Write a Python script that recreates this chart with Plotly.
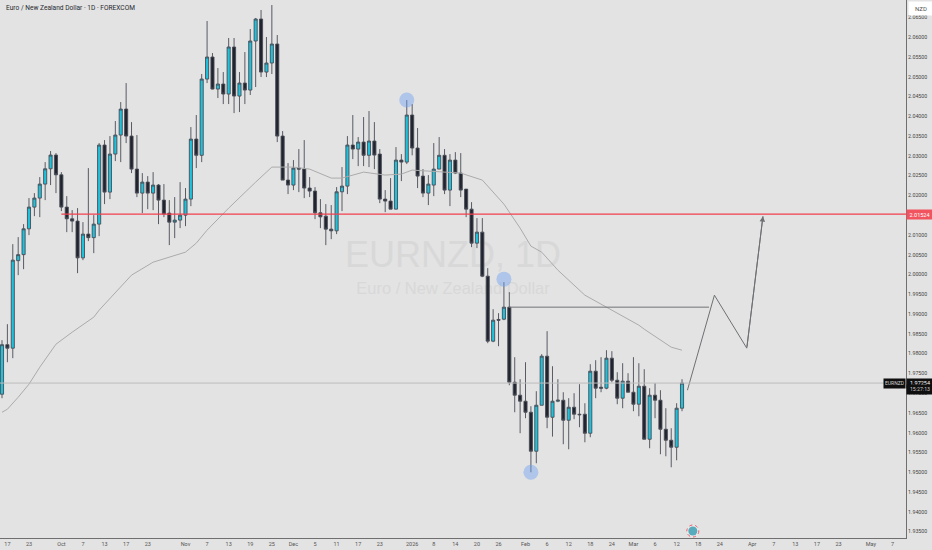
import pandas as pd
import plotly.graph_objects as go

# daily bars, 2025-09-16 to 2026-03-13
opens = [1.96972, 1.98224, 1.98136, 2.00349, 2.00501, 2.01154, 2.01703, 2.01931, 2.02285, 2.02672,
         2.03019, 2.0252, 2.01703, 2.01407, 2.01349, 2.0042, 2.0102, 2.00931, 2.01273, 2.03272,
         2.02082, 2.03044, 2.03525, 2.04182, 2.03499, 2.02664, 2.02057, 2.02335, 2.02057, 2.0226,
         2.0188, 2.01551, 2.01323, 2.01374, 2.0150, 2.01905, 2.03423, 2.03013, 2.04941, 2.05498,
         2.04688, 2.04815, 2.04562, 2.05751, 2.04511, 2.0484, 2.04663, 2.05903, 2.06459, 2.05118,
         2.05346, 2.05827, 2.03499, 2.02386, 2.0226, 2.0269, 2.02664, 2.02184, 2.02108, 2.01559,
         2.01475, 2.01146, 2.01103, 2.0209, 2.02234, 2.03272, 2.0317, 2.03347, 2.03013, 2.03373,
         2.03044, 2.01905, 2.01855, 2.01652, 2.02892, 2.02841, 2.04031, 2.03196, 2.02487, 2.02057,
         2.0226, 2.02664, 2.03013, 2.02133, 2.02892, 2.02563, 2.02158, 2.01652, 2.00792, 2.0107,
         1.99957, 1.98313, 1.98862, 1.98869, 1.99173, 1.97275, 1.96947, 1.96795, 1.96516, 1.9553,
         1.96693, 1.97933, 1.9639, 1.96795, 1.9682, 1.96314, 1.96643, 1.96466, 1.96466, 1.95985,
         1.97554, 1.97149, 1.97124, 1.97883, 1.97326, 1.96871, 1.97301, 1.97022, 1.96719, 1.97174,
         1.95833, 1.96947, 1.9682, 1.96086, 1.95808, 1.95631, 1.96618]
highs = [1.98338, 1.98743, 2.00767, 2.00944, 2.01273, 2.01931, 2.02057, 2.02462, 2.02841, 2.0312,
         2.03069, 2.02588, 2.01981, 2.01627, 2.01678, 2.01323, 2.0269, 2.0150, 2.03322, 2.03398,
         2.03499, 2.03879, 2.04359, 2.0484, 2.03853, 2.03525, 2.02563, 2.02487, 2.02588, 2.02285,
         2.02285, 2.0188, 2.01956, 2.02335, 2.02184, 2.03727, 2.04031, 2.05068, 2.06409, 2.05599,
         2.0522, 2.05118, 2.05979, 2.05979, 2.05118, 2.05624, 2.06206, 2.06485, 2.06687, 2.06004,
         2.06813, 2.06055, 2.03626, 2.02816, 2.02892, 2.0317, 2.03398, 2.02462, 2.02209, 2.01905,
         2.01779, 2.01754, 2.02209, 2.02715, 2.03499, 2.04031, 2.03474, 2.0398, 2.04132, 2.03853,
         2.0317, 2.02133, 2.02437, 2.03221, 2.03044, 2.0441, 2.04309, 2.03702, 2.02664, 2.02513,
         2.03322, 2.03474, 2.0317, 2.03044, 2.03094, 2.03069, 2.02158, 2.01829, 2.01425, 2.01425,
         2.0016, 1.99122, 1.99021, 1.99805, 1.99552, 1.97908, 1.97351, 1.97781, 1.96668, 1.97048,
         1.97984, 1.98566, 1.9768, 1.97351, 1.97022, 1.96871, 1.96997, 1.97225, 1.96744, 1.97731,
         1.97832, 1.97908, 1.98085, 1.9806, 1.97528, 1.97756, 1.97503, 1.97908, 1.97756, 1.97604,
         1.97124, 1.9725, 1.97073, 1.96618, 1.96112, 1.96744, 1.97351]
lows = [1.96871, 1.97781, 1.97883, 1.99983, 2.00134, 2.00995, 2.01475, 2.0145, 2.0188, 2.0226,
        2.02057, 2.01602, 2.0107, 2.0107, 2.00033, 2.00362, 2.00843, 2.00539, 2.00969, 2.01779,
        2.01905, 2.02867, 2.02841, 2.03322, 2.02563, 2.01956, 2.01551, 2.01652, 2.01627, 2.01273,
        2.0145, 2.00742, 2.00919, 2.01172, 2.01222, 2.01728, 2.0269, 2.02841, 2.0484, 2.0468,
        2.04461, 2.04309, 2.04309, 2.04081, 2.04106, 2.04309, 2.04537, 2.04739, 2.04992, 2.04992,
        2.05068, 2.03347, 2.02386, 2.02032, 2.02133, 2.02082, 2.01931, 2.01956, 2.01399, 2.01172,
        2.00742, 2.00893, 2.0102, 2.01602, 2.02032, 2.02917, 2.0274, 2.0274, 2.02715, 2.02664,
        2.01804, 2.01576, 2.01652, 2.01652, 2.02361, 2.02791, 2.03013, 2.02184, 2.01956, 2.01754,
        2.01981, 2.02664, 2.02032, 2.01728, 2.02538, 2.01956, 2.0145, 2.00691, 2.00666, 1.99932,
        1.98262, 1.98287, 1.98186, 1.98844, 1.97199, 1.96516, 1.95986, 1.96365, 1.94998, 1.95226,
        1.96693, 1.96112, 1.959, 1.9677, 1.95707, 1.9558, 1.9634, 1.96137, 1.95757, 1.95884,
        1.96871, 1.97022, 1.97098, 1.97275, 1.96719, 1.96618, 1.97022, 1.96542, 1.96415, 1.95833,
        1.95606, 1.96365, 1.95454, 1.95403, 1.95125, 1.95302, 1.96542]
closes = [1.98224, 1.98136, 2.00362, 2.00501, 2.01154, 2.01703, 2.01931, 2.02285, 2.02672, 2.03019,
          2.0252, 2.01703, 2.01407, 2.01349, 2.0042, 2.0102, 2.00931, 2.01273, 2.03272, 2.02082,
          2.03044, 2.03525, 2.04182, 2.03499, 2.02664, 2.02057, 2.02335, 2.02057, 2.0226, 2.0188,
          2.01526, 2.01323, 2.01374, 2.0150, 2.01905, 2.03423, 2.03013, 2.04941, 2.05498, 2.04688,
          2.04815, 2.04562, 2.05751, 2.04511, 2.0484, 2.04663, 2.05903, 2.06459, 2.05118, 2.05346,
          2.05827, 2.03499, 2.02386, 2.0226, 2.0269, 2.02664, 2.02184, 2.02108, 2.01559, 2.01457,
          2.01146, 2.01103, 2.0209, 2.02234, 2.03272, 2.0317, 2.03347, 2.03013, 2.03373, 2.03019,
          2.01905, 2.01855, 2.01652, 2.02892, 2.02841, 2.04031, 2.03196, 2.02487, 2.02057, 2.02285,
          2.02664, 2.03013, 2.02133, 2.02892, 2.02563, 2.02133, 2.01652, 2.00792, 2.0107, 1.99957,
          1.98313, 1.98844, 1.98844, 1.99173, 1.97275, 1.96947, 1.96795, 1.96516, 1.9553, 1.96693,
          1.97933, 1.9639, 1.96795, 1.9682, 1.96314, 1.96643, 1.96466, 1.96453, 1.95985, 1.97554,
          1.97124, 1.97124, 1.97883, 1.97326, 1.96871, 1.97301, 1.97022, 1.96719, 1.97174, 1.95833,
          1.96947, 1.9682, 1.96086, 1.95808, 1.95631, 1.96618, 1.97254]

# moving average, read at some of the bars
ma_bars = [0, 1, 3, 5, 7, 10, 13, 17, 18, 20, 23, 24, 28, 34, 36, 38, 42, 45, 47, 50, 54, 57,
           61, 63, 67, 71, 74, 76, 81, 85, 89, 93, 96, 98, 100, 103, 108, 112, 118, 119, 121, 124, 126]
ma_values = [1.96516, 1.96592, 1.96896, 1.97225, 1.97655, 1.98237, 1.98540, 1.98920, 1.99097, 1.99401,
             1.99856, 1.99983, 2.00311, 2.00564, 2.00792, 2.01121, 2.01678, 2.02057, 2.02335, 2.02715,
             2.02715, 2.02664, 2.02437, 2.02437, 2.02588, 2.02513, 2.02538, 2.02639, 2.02588, 2.02563,
             2.02386, 2.01779, 2.01172, 2.00716, 2.00564, 2.00109, 1.99476, 1.99173, 1.98718, 1.98616,
             1.98439, 1.98161, 1.98085]

# time axis
tick_dates = ['2025-09-17', '2025-09-23', '2025-10-01', '2025-10-07', '2025-10-13', '2025-10-17', '2025-10-23',
              '2025-11-03', '2025-11-07', '2025-11-13', '2025-11-19', '2025-11-25', '2025-12-01', '2025-12-05',
              '2025-12-11', '2025-12-17', '2025-12-23', '2026-01-02', '2026-01-08', '2026-01-14', '2026-01-20',
              '2026-01-26', '2026-02-02', '2026-02-06', '2026-02-12', '2026-02-18', '2026-02-24', '2026-03-02',
              '2026-03-06', '2026-03-12', '2026-03-18', '2026-03-24', '2026-04-01', '2026-04-07', '2026-04-13',
              '2026-04-17', '2026-04-23', '2026-05-01', '2026-05-07']
tick_labels = ['17', '23', 'Oct', '7', '13', '17', '23', 'Nov', '7', '13', '19', '25', 'Dec', '5', '11', '17', '23',
               '2026', '8', '14', '20', '26', 'Feb', '6', '12', '18', '24', 'Mar', '6', '12', '18', '24', 'Apr',
               '7', '13', '17', '23', 'May', '7']

# price axis, 2.015 sits behind the red label so it is left out
price_ticks = [1.935, 1.94, 1.945, 1.95, 1.955, 1.96, 1.965, 1.97, 1.975, 1.98, 1.985, 1.99, 1.995, 2.0,
               2.005, 2.01, 2.02, 2.025, 2.03, 2.035, 2.04, 2.045, 2.05, 2.055, 2.06, 2.065]

last_price = 1.97254
countdown_price = 1.97098
red_level = 2.01524
black_level = 1.99173

# drawn projection path and highlighted swing points
path_bars = [127, 132, 138, 141]
path_prices = [1.97073, 1.99476, 1.98136, 2.01475]
circle_bars = [75, 93, 98]
circle_prices = [2.0441, 1.99881, 1.94998]
event_bar = 128
event_price = 1.93513

# no bars on weekends and on the two holidays
dates = [d.strftime('%Y-%m-%d') for d in pd.bdate_range('2025-09-16', '2026-05-15')
         if d.strftime('%Y-%m-%d') not in ('2025-12-25', '2026-01-01')]
bar_dates = dates[:len(opens)]

fig = go.Figure()

fig.add_trace(go.Candlestick(
    x=bar_dates, open=opens, high=highs, low=lows, close=closes,
    increasing=dict(fillcolor='#1cc3dc', line=dict(color='#484c56', width=0.9)),
    decreasing=dict(fillcolor='#20242f', line=dict(color='#484c56', width=0.9)),
    whiskerwidth=0,
))
fig.add_trace(go.Scatter(
    x=[dates[i] for i in ma_bars], y=ma_values, mode='lines',
    line=dict(color='#ababab', width=1),
))
fig.add_trace(go.Scatter(
    x=[dates[i] for i in path_bars], y=path_prices, mode='lines',
    line=dict(color='#6e7074', width=1),
))
fig.add_trace(go.Scatter(
    x=[dates[i] for i in circle_bars], y=circle_prices, mode='markers',
    marker=dict(size=15, color='rgba(110,160,240,0.45)', line=dict(width=0)),
))
fig.add_trace(go.Scatter(
    x=[dates[event_bar]], y=[event_price], mode='markers',
    marker=dict(size=9, color='#1f8fa6', line=dict(width=0)),
))

shapes = [
    # watermark sits under the candles
    dict(type='rect', layer='below', xref='paper', yref='paper', x0=0, x1=1, y0=0.488, y1=0.578,
         line=dict(width=0), fillcolor='rgba(0,0,0,0)',
         label=dict(text='EURNZD, 1D', font=dict(family='Liberation Sans', size=36, color='#d8d8d8'),
                    textposition='middle center')),
    dict(type='rect', layer='below', xref='paper', yref='paper', x0=0, x1=1, y0=0.435, y1=0.5,
         line=dict(width=0), fillcolor='rgba(0,0,0,0)',
         label=dict(text='Euro / New Zealand Dollar', font=dict(family='Liberation Sans', size=16.5, color='#d8d8d8'),
                    textposition='middle center')),
    dict(type='line', xref='paper', x0=0, x1=1, yref='y', y0=last_price, y1=last_price,
         line=dict(color='#bcbcbc', width=1)),
    dict(type='line', xref='x', x0=dates[11], x1=dates[-1], yref='y', y0=red_level, y1=red_level,
         line=dict(color='#f2404f', width=1.2)),
    dict(type='line', xref='x', x0=dates[94], x1=dates[131], yref='y', y0=black_level, y1=black_level,
         line=dict(color='#707276', width=1)),
    # ring of the event marker
    dict(type='circle', xref='x', yref='y', xsizemode='pixel', ysizemode='pixel',
         xanchor=dates[event_bar], yanchor=event_price, x0=-6, x1=6, y0=-6, y1=6,
         fillcolor='rgba(255,255,255,0.25)', line=dict(color='#ee5a6a', width=1, dash='dot')),
]

annotations = [
    dict(text='Euro / New Zealand Dollar · 1D · FOREXCOM', xref='paper', yref='paper', x=0.0044, y=0.985,
         xanchor='left', yanchor='middle', showarrow=False,
         font=dict(family='Roboto', size=6.6, color='#26282e')),
    dict(text='NZD', xref='paper', yref='paper', x=1.002, y=0.984, xanchor='left', yanchor='middle',
         showarrow=False, bgcolor='white', width=22, height=11, font=dict(family='Roboto', size=6, color='#555555')),
    dict(text=f'{red_level:.5f}', xref='paper', yref='y', x=1, y=red_level, xanchor='left', yanchor='middle',
         showarrow=False, bgcolor='#f2545f', width=23, height=7, font=dict(family='Roboto', size=5.5, color='white')),
    dict(text=f'{last_price:.5f}', xref='paper', yref='y', x=1, y=last_price, xanchor='left',
         yanchor='middle', showarrow=False, bgcolor='#0f0f0f', width=24, height=6.5,
         font=dict(family='Roboto', size=5.5, color='white')),
    dict(text='15:27:13', xref='paper', yref='y', x=1, y=countdown_price, xanchor='left',
         yanchor='middle', showarrow=False, bgcolor='#0f0f0f', width=24, height=6.5,
         font=dict(family='Roboto', size=5.2, color='#cccccc')),
    dict(text='EURNZD', xref='paper', yref='y', x=1, y=last_price, xanchor='right', yanchor='middle',
         showarrow=False, bgcolor='#0f0f0f', width=19, height=6.5, font=dict(family='Roboto', size=5, color='#cfcfcf')),
    # arrow head on the last leg of the path
    dict(x=dates[path_bars[3]], y=path_prices[3], ax=dates[path_bars[2]], ay=path_prices[2],
         xref='x', yref='y', axref='x', ayref='y', text='', showarrow=True,
         arrowhead=2, arrowsize=1.1, arrowwidth=1, arrowcolor='#6e7074'),
]

fig.update_layout(
    width=932, height=550, autosize=False,
    margin=dict(l=0, r=25.5, t=0, b=12.3),
    paper_bgcolor='#e3e3e3', plot_bgcolor='#e3e3e3',
    showlegend=False, boxgap=0.18,
    shapes=shapes, annotations=annotations,
    font=dict(family='Roboto', color='#444444'),
)
fig.update_xaxes(
    type='category', categoryorder='array', categoryarray=dates,
    range=[-0.37, 167.5], rangeslider_visible=False, showgrid=False, zeroline=False,
    tickmode='array', tickvals=tick_dates, ticktext=tick_labels, ticks='', tickangle=0, tickfont=dict(size=5.5, color='#555555'),
    showline=True, linecolor='#6f6f6f', linewidth=1,
)
fig.update_yaxes(
    side='right', range=[1.93336, 2.0694], showgrid=False, zeroline=False,
    tickmode='array', tickvals=price_ticks, ticktext=[f'{p:.5f}' for p in price_ticks], ticks='',
    tickfont=dict(size=5.3, color='#444444'),
    showline=True, linecolor='#6f6f6f', linewidth=1,
)

# the page's default body margin would push the chart 8px in
fig.write_html("out.html", config=dict(displayModeBar=False),
               post_script="document.body.style.margin='0';document.body.style.overflow='hidden';")
